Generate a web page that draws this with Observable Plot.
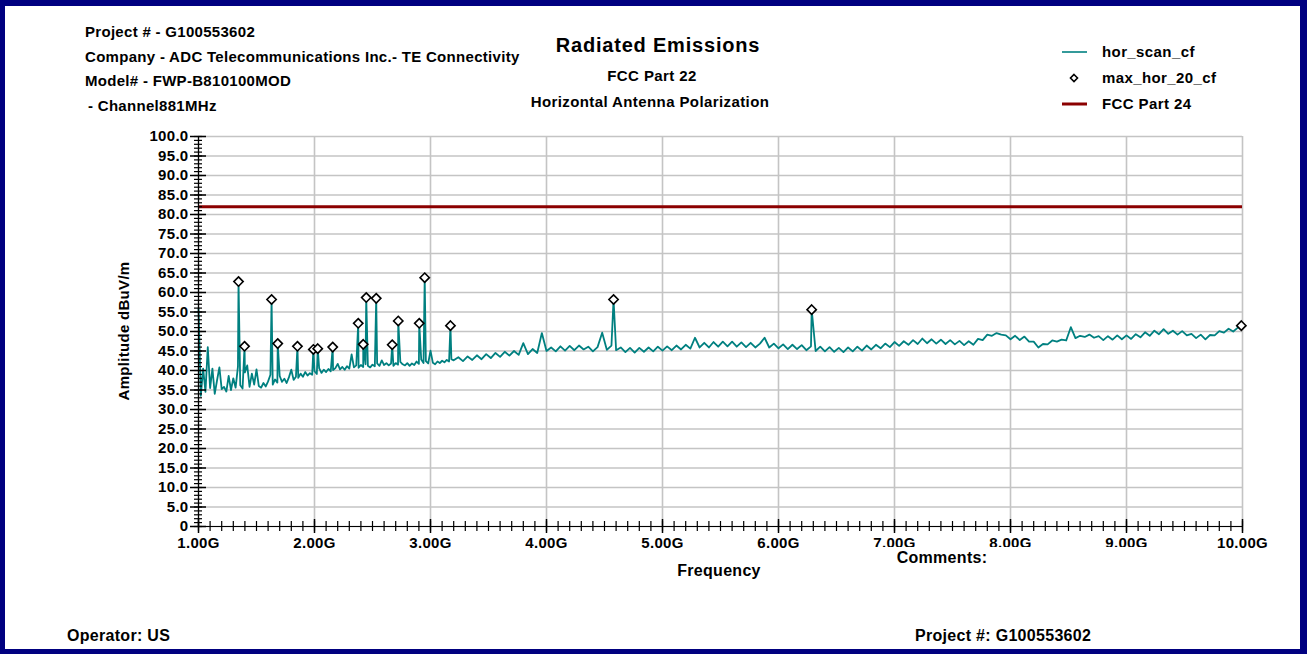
<!DOCTYPE html>
<html><head><meta charset="utf-8">
<script src="https://cdn.jsdelivr.net/npm/d3@7"></script>
<script src="https://cdn.jsdelivr.net/npm/@observablehq/plot@0.6"></script>
<style>
html,body{margin:0;padding:0;background:#fff;}
#page{position:relative;width:1307px;height:654px;overflow:hidden;background:#fff;font-family:Arial,"Liberation Sans",Helvetica,sans-serif;font-weight:bold;color:#000;}
#frame{position:absolute;left:0;top:0;width:1307px;height:654px;box-sizing:border-box;border-style:solid;border-color:#000080;border-width:6px 7px 5px 5px;z-index:5;pointer-events:none;}
#chart{position:absolute;left:0;top:0;}
.t{position:absolute;white-space:nowrap;line-height:1;font-size:15px;letter-spacing:0.3px;z-index:3;}
.c{transform:translateX(-50%);}
#comments-box{position:absolute;left:872px;top:547px;width:340px;height:20px;background:#fff;z-index:2;}
.leg{position:absolute;left:1062px;z-index:3;display:flex;align-items:center;font-size:15px;letter-spacing:0.4px;line-height:1;}
.leg svg{width:26px;height:12px;margin-right:14px;}
</style>
</head>
<body>
<div id="page">
  <div id="chart"></div>
  <div class="t" style="left:85px;top:24px;">Project # - G100553602</div>
  <div class="t" style="left:85px;top:49px;">Company - ADC Telecommunications Inc.- TE Connectivity</div>
  <div class="t" style="left:85px;top:73px;">Model# - FWP-B810100MOD</div>
  <div class="t" style="left:88px;top:98px;"> - Channel881MHz</div>
  <div class="t c" style="left:658px;top:35px;font-size:20px;letter-spacing:0.8px;">Radiated Emissions</div>
  <div class="t c" style="left:652px;top:68px;font-size:15px;letter-spacing:0.4px;">FCC Part 22</div>
  <div class="t c" style="left:650px;top:94px;font-size:15px;letter-spacing:0.4px;">Horizontal Antenna Polarization</div>
  <div id="legend"></div>
  <div class="t" style="left:123px;top:331px;transform:translate(-50%,-50%) rotate(-90deg);transform-origin:center;">Amplitude dBuV/m</div>
  <div class="t c" style="left:719px;top:563px;font-size:16px;">Frequency</div>
  <div id="comments-box"></div>
  <div class="t c" style="left:942px;top:550px;font-size:16px;">Comments:</div>
  <div class="t" style="left:67px;top:628px;font-size:16px;">Operator: US</div>
  <div class="t" style="left:915px;top:628px;font-size:16px;">Project #: G100553602</div>
  <div id="frame"></div>
</div>
<script>
// ---- data (GHz, dBuV/m) ----
const scanLow = [[1.00,56],[1.02,33.5],[1.04,40.5],[1.06,34.5],[1.08,46],[1.10,35.5],[1.12,40.5],[1.14,34],[1.16,37.5],[1.18,40.8],[1.20,35.2],[1.22,35.8],[1.24,34.6],[1.26,38.6],[1.28,35],[1.30,38],[1.32,35.6],[1.34,41],[1.36,36.2],[1.38,35.4],[1.40,39.5],[1.42,41.3],[1.44,35.8],[1.46,39.2],[1.48,36.4],[1.50,40.3],[1.52,36],[1.54,35.6],[1.56,36.8],[1.58,35.9],[1.60,37.2],[1.62,38.9],[1.64,36.4],[1.66,37.7],[1.68,36.9],[1.70,38.6],[1.72,37.1],[1.74,37.9],[1.76,36.8],[1.78,38.3],[1.80,40.2],[1.82,37.6],[1.84,38.4],[1.86,38.1],[1.88,39.2],[1.90,38.4],[1.92,39.6],[1.94,38.7],[1.96,39.3],[1.98,38.9],[2.00,39.8],[2.02,39.1],[2.04,40.6],[2.06,39.4],[2.08,40.2],[2.10,39.6],[2.12,40.4],[2.14,39.8],[2.16,40.1],[2.18,40.6],[2.20,41.7],[2.22,40.3],[2.24,40.9],[2.26,40.2],[2.28,41.1],[2.30,40.5],[2.32,44.1],[2.34,40.8],[2.36,41.3],[2.38,40.7],[2.40,41.4],[2.42,40.9],[2.44,41.6],[2.46,41.2],[2.48,40.8],[2.50,41.5],[2.52,41.1],[2.54,41.8],[2.56,41.2],[2.58,42.6],[2.60,41.4],[2.62,41.9],[2.64,41.3],[2.66,41.8],[2.68,41.2],[2.70,41.9],[2.72,41.5],[2.74,42.2],[2.76,41.6],[2.78,41.3],[2.80,41.9],[2.82,41.2],[2.84,41.8],[2.86,41.4],[2.88,42.3],[2.90,41.7],[2.92,42.8],[2.94,41.9],[2.96,42.4],[2.98,41.8],[3.00,45.1],[3.02,42.0],[3.04,41.6],[3.06,42.3],[3.08,41.9],[3.10,42.5],[3.12,42.1],[3.14,42.7],[3.16,42.3],[3.18,42.9],[3.20,42.6]];
const scanHigh = [[3.24,43.4],[3.28,42.4],[3.32,43.6],[3.36,42.7],[3.40,43.9],[3.44,42.9],[3.48,44.2],[3.52,43.2],[3.56,44.5],[3.60,43.5],[3.64,44.8],[3.68,43.8],[3.72,45.0],[3.76,44.0],[3.80,47.0],[3.84,44.2],[3.88,45.5],[3.92,44.5],[3.96,49.6],[4.00,45.0],[4.04,45.9],[4.08,44.9],[4.12,46.2],[4.16,45.1],[4.20,46.3],[4.24,45.2],[4.28,46.4],[4.32,45.4],[4.36,46.1],[4.40,44.9],[4.44,46.0],[4.48,49.7],[4.52,45.3],[4.56,46.4],[4.60,45.2],[4.64,45.9],[4.68,44.7],[4.72,45.8],[4.76,44.6],[4.80,45.8],[4.84,44.8],[4.88,45.9],[4.92,44.9],[4.96,46.1],[5.00,45.1],[5.04,46.2],[5.08,45.2],[5.12,46.4],[5.16,45.4],[5.20,46.6],[5.24,45.6],[5.28,48.4],[5.32,45.9],[5.36,47.1],[5.40,45.9],[5.44,47.3],[5.48,46.1],[5.52,47.4],[5.56,46.2],[5.60,47.4],[5.64,46.1],[5.68,47.2],[5.72,46.0],[5.76,47.1],[5.80,45.9],[5.84,46.9],[5.88,48.4],[5.92,45.9],[5.96,46.9],[6.00,45.7],[6.04,46.7],[6.08,45.5],[6.12,46.6],[6.16,45.5],[6.20,46.5],[6.24,45.2],[6.28,46.2],[6.32,45.0],[6.36,46.1],[6.40,44.9],[6.44,46.0],[6.48,44.8],[6.52,45.8],[6.56,44.7],[6.60,45.9],[6.64,44.9],[6.68,46.1],[6.72,45.1],[6.76,46.4],[6.80,45.4],[6.84,46.6],[6.88,45.7],[6.92,46.9],[6.96,46.0],[7.00,47.3],[7.04,46.3],[7.08,47.5],[7.12,46.6],[7.16,47.8],[7.20,46.8],[7.24,48.2],[7.28,47.0],[7.32,48.0],[7.36,46.9],[7.40,47.9],[7.44,46.8],[7.48,47.8],[7.52,46.7],[7.56,47.6],[7.60,46.5],[7.64,47.5],[7.68,46.6],[7.72,48.1],[7.76,47.8],[7.80,49.2],[7.84,48.9],[7.88,49.6],[7.92,49.2],[7.96,49.0],[8.00,48.0],[8.04,48.9],[8.08,47.8],[8.12,48.7],[8.16,47.4],[8.20,47.4],[8.24,45.9],[8.28,46.8],[8.32,46.7],[8.36,47.7],[8.40,47.4],[8.44,47.9],[8.48,47.7],[8.52,51.1],[8.56,48.3],[8.60,48.9],[8.64,48.6],[8.68,49.2],[8.72,48.4],[8.76,48.8],[8.80,47.8],[8.84,48.8],[8.88,47.9],[8.92,49.0],[8.96,48.0],[9.00,49.0],[9.04,48.1],[9.08,49.3],[9.12,48.5],[9.16,49.8],[9.20,48.9],[9.24,50.2],[9.28,49.3],[9.32,50.6],[9.36,49.4],[9.40,50.2],[9.44,49.2],[9.48,50.1],[9.52,49.0],[9.56,49.4],[9.60,48.3],[9.64,49.2],[9.68,48.0],[9.72,49.1],[9.76,49.0],[9.80,50.1],[9.84,49.7],[9.88,50.7],[9.92,50.0],[9.96,51.0],[10.00,51.0]];
const peakFreq = [1.345, 1.397, 1.630, 1.683, 1.853, 1.990, 2.028, 2.157, 2.377, 2.420, 2.446, 2.532, 2.670, 2.722, 2.903, 2.950, 3.172, 4.578, 6.286, 9.990];
const peakAmp  = [62.8, 46.2, 58.2, 46.9, 46.2, 45.4, 45.6, 46.0, 52.1, 46.7, 58.7, 58.5, 46.6, 52.7, 52.1, 63.8, 51.5, 58.2, 55.6, 51.5];
const fccLimit = 82;
const xDomain = [1, 10];
const yDomain = [0, 100];
const xMajorTicks = [1, 2, 3, 4, 5, 6, 7, 8, 9, 10];
const yMajorTicks = [0, 5, 10, 15, 20, 25, 30, 35, 40, 45, 50, 55, 60, 65, 70, 75, 80, 85, 90, 95, 100];
const seriesNames = ["hor_scan_cf", "max_hor_20_cf", "FCC Part 24"];
const seriesColors = ["#008080", "#000000", "#8b0000"];

// ---- build ----
const peaks = peakFreq.map((f, i) => ({f, v: peakAmp[i]}));
const scan = scanLow.concat(scanHigh).map(([f, v]) => ({f, v}))
  .concat(peaks).sort((a, b) => a.f - b.f);
const xMinorTicks = d3.range(xDomain[0], xDomain[1] + 1e-9, 0.1).map(d => +d.toFixed(2));
const yMinorTicks = d3.range(yDomain[0], yDomain[1] + 1e-9, 1);

const chart = Plot.plot({
  width: 1307,
  height: 654,
  marginLeft: 198,
  marginRight: 65,
  marginTop: 136,
  marginBottom: 128,
  x: {domain: xDomain},
  y: {domain: yDomain},
  style: {fontFamily: "Arial, 'Liberation Sans', sans-serif", fontWeight: "bold", fontSize: "15px", letterSpacing: "0.3px", background: "transparent", overflow: "visible"},
  marks: [
    Plot.gridX(xMajorTicks, {stroke: "#c4c4c4", strokeOpacity: 1, strokeWidth: 1.6}),
    Plot.gridY(yMajorTicks, {stroke: "#c4c4c4", strokeOpacity: 1, strokeWidth: 1.6}),
    Plot.ruleY([fccLimit], {stroke: seriesColors[2], strokeWidth: 3}),
    Plot.line(scan, {x: "f", y: "v", stroke: seriesColors[0], strokeWidth: 1.8}),
    Plot.dot(peaks, {x: "f", y: "v", symbol: "diamond2", r: 4.2, fill: "white", stroke: seriesColors[1], strokeWidth: 1.6}),
    Plot.ruleX([xDomain[0]], {stroke: "black", strokeWidth: 1.2}),
    Plot.ruleY([yDomain[0]], {stroke: "black", strokeWidth: 1.2}),
    Plot.ruleX(xMinorTicks, {x: d => d, y1: yDomain[0], y2: yDomain[0], insetTop: -5, insetBottom: -5, stroke: "black", strokeWidth: 1.2}),
    Plot.ruleX(xMajorTicks, {x: d => d, y1: yDomain[0], y2: yDomain[0], insetTop: -7, insetBottom: -7, stroke: "black", strokeWidth: 1.5}),
    Plot.ruleY(yMinorTicks, {y: d => d, x1: xDomain[0], x2: xDomain[0], insetLeft: -4, insetRight: -4, stroke: "black", strokeWidth: 1.2}),
    Plot.ruleY(yMajorTicks, {y: d => d, x1: xDomain[0], x2: xDomain[0], insetLeft: -8, insetRight: -8, stroke: "black", strokeWidth: 1.5}),
    Plot.axisX({ticks: xMajorTicks, tickSize: 0, tickPadding: 11, tickFormat: d => d.toFixed(2) + "G", label: null, fontSize: 15, fontWeight: "bold"}),
    Plot.axisY({ticks: yMajorTicks, tickSize: 0, tickPadding: 10, tickFormat: d => d === 0 ? "0" : d.toFixed(1), label: null, fontSize: 15, fontWeight: "bold"})
  ]
});
document.getElementById("chart").appendChild(chart);

// ---- legend ----
const legend = document.getElementById("legend");
const legTops = [44, 70, 96];
seriesNames.forEach((name, i) => {
  const row = document.createElement("div");
  row.className = "leg";
  row.style.top = legTops[i] + "px";
  let sw;
  if (i === 0) sw = `<svg viewBox="0 0 26 12"><line x1="0" y1="6" x2="25" y2="6" stroke="${seriesColors[0]}" stroke-width="1.6"/></svg>`;
  else if (i === 1) sw = `<svg viewBox="0 0 26 12"><path d="M12 2.5L15.5 6L12 9.5L8.5 6Z" fill="white" stroke="${seriesColors[1]}" stroke-width="1.6"/></svg>`;
  else sw = `<svg viewBox="0 0 26 12"><line x1="0" y1="6" x2="25" y2="6" stroke="${seriesColors[2]}" stroke-width="3"/></svg>`;
  row.innerHTML = sw + `<span>${name}</span>`;
  legend.appendChild(row);
});
</script>
</body></html>
